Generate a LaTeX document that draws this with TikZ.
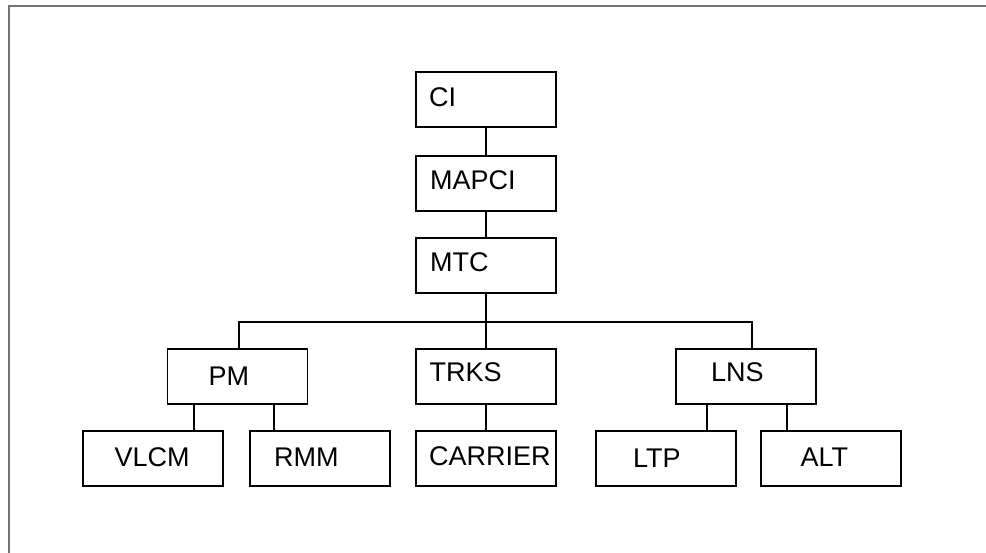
\documentclass[tikz,border=0pt]{standalone}
\usepackage{fontspec}
\setmainfont{Liberation Sans}
\begin{document}
\begin{tikzpicture}[x=1pt,y=-1pt,
  box/.style={draw=black,line width=1.9pt,minimum width=140pt,minimum height=55pt,inner sep=0pt},
  lbl/.style={anchor=base west,inner sep=0pt,font=\fontsize{27}{31}\selectfont},
  conn/.style={line width=1.8pt,black},
  frame/.style={line width=1.6pt,draw=black!55}]
\useasboundingbox (0,0) rectangle (986,553);
\coordinate (ftl) at (9,6);
\coordinate (ftr) at (986,6);
\coordinate (fbl) at (9,553);
\draw[frame] (ftr) -- (ftl) -- (fbl);
% boxes
\node[box] (CI) at (486.3,99.2) {};
\node[box] (MAPCI) at (486.3,183.3) {};
\node[box] (MTC) at (486.3,265.3) {};
\node[box] (TRKS) at (486.3,376.8) {};
\node[box] (CARRIER) at (486.3,458.8) {};
\node[box] (PM) at (237.5,376.8) {};
\node[box] (LNS) at (746.3,376.8) {};
\node[box] (VLCM) at (153.3,458.5) {};
\node[box] (RMM) at (320,458.5) {};
\node[box] (LTP) at (666.3,458.5) {};
\node[box] (ALT) at (831,458.5) {};
% labels
\node[lbl] (tCI) at (429,106.7) {CI};
\node[lbl] (tMAPCI) at (430,189.3) {MAPCI};
\node[lbl] (tMTC) at (430,271.7) {MTC};
\node[lbl] (tTRKS) at (429.5,381.7) {TRKS};
\node[lbl] (tCARRIER) at (429,465.7) {CARRIER};
\node[lbl] (tPM) at (208.5,385.7) {PM};
\node[lbl] (tLNS) at (711,381.7) {LNS};
\node[lbl] (tVLCM) at (114.5,466) {VLCM};
\node[lbl] (tRMM) at (274,466) {RMM};
\node[lbl] (tLTP) at (633,467.7) {LTP};
\node[lbl] (tALT) at (800.5,466) {ALT};
% connectors
\coordinate (bus) at (486.3,322.3);
\draw[conn] (CI.south) -- (MAPCI.north);
\draw[conn] (MAPCI.south) -- (MTC.north);
\draw[conn] (MTC.south) -- (TRKS.north);
\draw[conn] ([xshift=1.5pt]PM.north) |- (bus) -| ([xshift=5.7pt]LNS.north);
\draw[conn] (TRKS.south) -- (CARRIER.north);
\draw[conn] (PM.south -| 194.3,0) -- (VLCM.north -| 194.3,0);
\draw[conn] (PM.south -| 274.3,0) -- (RMM.north -| 274.3,0);
\draw[conn] (LNS.south -| 707,0) -- (LTP.north -| 707,0);
\draw[conn] (LNS.south -| 787.3,0) -- (ALT.north -| 787.3,0);
\end{tikzpicture}
\end{document}
